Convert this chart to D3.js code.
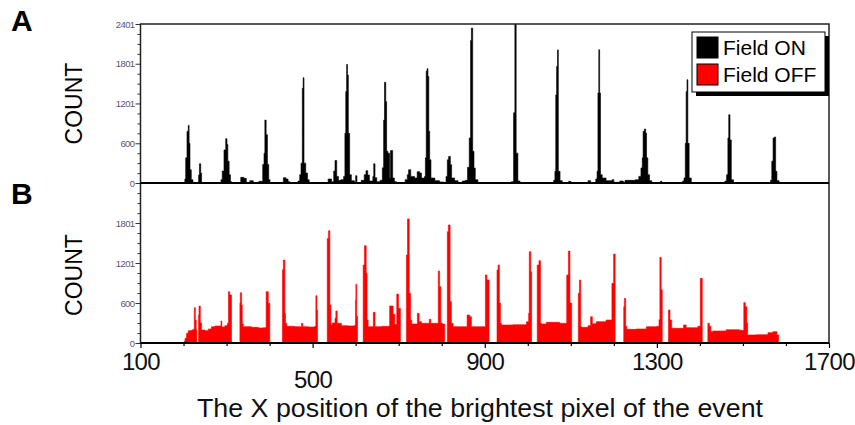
<!DOCTYPE html>
<html>
<head>
<meta charset="utf-8">
<script src="https://cdn.jsdelivr.net/npm/d3@7"></script>
<style>
  body { margin: 0; background: #fff; }
  svg { display: block; }
</style>
</head>
<body>
<div id="chart"></div>
<script>
// histogram bins: [bin start, count], a bin lasts until the next start
const fieldOnBins = [
    [200, 0], [203, 60], [205, 380], [208, 780], [211, 870], [213, 600], [215, 200], [218, 50], [222, 0],
    [235, 120], [237, 290], [240, 150], [242, 0],
    [287, 50], [290, 180], [294, 500], [298, 670], [301, 580], [303, 330], [306, 125], [309, 20], [312, 0],
    [333, 85], [340, 70], [346, 0], [354, 35], [362, 0],
    [375, 25], [384, 280], [387, 450], [389, 950], [392, 730], [395, 280], [398, 50], [401, 0],
    [432, 80], [438, 60], [443, 20], [447, 0],
    [466, 30], [470, 125], [473, 300], [476, 1430], [478, 1590], [480, 300], [484, 150], [488, 50], [492, 0],
    [536, 60], [544, 20], [549, 180], [552, 340], [556, 100], [560, 40],
    [566, 50], [572, 100], [575, 750], [577, 1380], [579, 1790], [581, 1630], [583, 750], [586, 125], [590, 35], [597, 0],
    [600, 110], [603, 0],
    [613, 40], [620, 125], [624, 186], [628, 120], [632, 30],
    [640, 100], [642, 290], [645, 80], [649, 20],
    [657, 40], [662, 230], [665, 950], [667, 1520], [670, 1230], [672, 480], [675, 450], [679, 75], [681, 490], [686, 75], [690, 20], [695, 0],
    [715, 50], [720, 125], [723, 200], [728, 100], [737, 75], [743, 170], [749, 150], [753, 75], [760, 100],
    [762, 380], [764, 1690], [766, 1726], [768, 1610], [770, 780], [772, 350], [775, 75], [784, 35], [795, 15], [805, 0],
    [810, 100], [813, 350], [816, 400], [820, 277], [823, 75], [830, 35], [838, 0],
    [848, 30], [855, 40], [860, 236], [864, 680], [867, 2150], [869, 2340], [872, 480], [875, 226], [878, 50], [884, 0],
    [962, 20], [967, 1060], [970, 2480], [973, 450], [977, 30], [982, 0],
    [1060, 40], [1063, 176], [1065, 1330], [1067, 1760], [1069, 2010], [1071, 176], [1075, 35], [1080, 0],
    [1095, 25], [1100, 0], [1140, 35], [1146, 0],
    [1158, 60], [1161, 176], [1163, 1360], [1165, 2013], [1167, 1360], [1169, 125], [1173, 75], [1182, 35], [1196, 50], [1200, 10], [1214, 30], [1222, 10], [1226, 40],
    [1250, 50], [1258, 100], [1263, 227], [1266, 380], [1268, 780], [1271, 815], [1274, 755], [1276, 380], [1279, 125], [1283, 35], [1288, 0],
    [1308, 25], [1312, 0],
    [1360, 30], [1363, 75], [1366, 600], [1368, 1380], [1370, 1560], [1372, 600], [1375, 75], [1380, 0],
    [1458, 30], [1462, 125], [1465, 680], [1467, 1030], [1470, 650], [1473, 50], [1478, 0],
    [1564, 40], [1567, 330], [1570, 680], [1573, 695], [1576, 176], [1579, 35], [1584, 0]
];

const fieldOffBins = [
    [202, 30], [203.4, 70], [207, 145], [211, 185], [219, 195], [222.5, 205], [225, 530], [227.5, 345], [229.5, 195], [231, 0],
    [235, 420], [236, 555], [239, 300], [242, 195], [250, 185], [257.5, 210], [265, 245], [273, 255], [281, 255], [287, 330], [289, 240], [296, 260], [302, 295], [304.5, 770], [307.5, 720], [311.5, 0],
    [331, 600], [332, 755], [335, 570], [336.5, 285], [339, 245], [358, 235], [374, 225], [385, 230], [392, 770], [397, 595], [400.5, 0],
    [430, 1100], [432, 1245], [435.5, 445], [437, 295], [440, 250], [459, 245], [474, 295], [477, 245], [490, 240], [505, 250], [507.5, 710], [510, 495], [511.5, 0],
    [534, 1570], [537, 1686], [540, 570], [542.5, 270], [545.5, 300], [552, 370], [554, 480], [557, 295], [567, 260], [583, 255], [597, 265], [599.5, 645], [600.5, 880], [602.5, 400], [604.5, 0],
    [617.5, 1170], [620.5, 1460], [624.5, 1045], [626.5, 345], [629, 245], [641, 460], [645, 245], [660, 250], [679, 555], [687, 430], [691, 280], [695.5, 735], [699.5, 520], [704, 0],
    [718, 1320], [720.5, 1861], [724.5, 745], [727.5, 345], [730.5, 285], [743.5, 445], [747.5, 320], [753, 295], [771, 355], [774.5, 295], [792, 1080], [795, 845], [798, 300], [801, 285], [807, 0],
    [813, 1670], [815.5, 1771], [819.5, 620], [822.5, 295], [826.5, 245], [859, 420], [865, 395], [869, 245], [901.5, 1020], [905, 945], [910, 0],
    [928.5, 1095], [931, 1170], [934, 600], [936.5, 295], [939, 270], [966, 275], [997, 320], [1002, 445], [1003.5, 1370], [1007, 1070], [1009, 0],
    [1022, 1170], [1026, 1235], [1029.5, 300], [1031.5, 285], [1043, 310], [1074, 295], [1090.5, 1020], [1094.5, 1380], [1098, 600], [1102, 0],
    [1117.5, 745], [1120, 945], [1123, 245], [1125.5, 235], [1140, 260], [1146, 395], [1150, 290], [1159, 320], [1182, 345], [1195.5, 895], [1199.5, 1335], [1203, 0],
    [1223, 545], [1224.5, 670], [1227.5, 250], [1230, 205], [1252, 210], [1275.5, 245], [1299, 250], [1305, 350], [1307, 1285], [1310, 800], [1312.5, 0],
    [1327, 495], [1330.5, 345], [1334.5, 220], [1362, 270], [1368, 230], [1395, 250], [1401, 970], [1405.5, 0],
    [1418.5, 295], [1422, 250], [1425.5, 170], [1430, 180], [1461, 200], [1492, 190], [1502, 605], [1505.5, 545], [1509, 300], [1511, 120], [1531, 125], [1558, 155], [1569.5, 170], [1579, 120], [1583, 0]
];

const topTickValues = [0, 600, 1201, 1801, 2401];
const bottomTickValues = [0, 600, 1201, 1801];
const minorYTicks = [150, 300, 450, 750, 900, 1050, 1350, 1500, 1650, 1950, 2100, 2250];
const xTickValues = [100, 500, 900, 1300, 1700];
const xMinorTicks = [200, 300, 400, 600, 700, 800, 1000, 1100, 1200, 1400, 1500, 1600];
const legendLabels = ['Field ON', 'Field OFF'];
const seriesColors = ['#000000', '#ff0000'];
const panelLetters = ['A', 'B'];

const W = 855, H = 425;
const left = 140.5, right = 829;

const svg = d3.select('#chart').append('svg')
    .attr('width', W)
    .attr('height', H);

const x = d3.scaleLinear().domain([100, 1700]).range([left, right]);
const yTop = d3.scaleLinear().domain([0, 2401]).range([183, 24]);
const yBot = d3.scaleLinear().domain([0, 2401]).range([343, 183]);

const sans = 'Arial, "Liberation Sans", sans-serif';

// clip paths so spikes stop at the frame
const defs = svg.append('defs');
[['clipTop', yTop], ['clipBot', yBot]].forEach(([id, y]) => {
    defs.append('clipPath').attr('id', id)
        .append('rect')
        .attr('x', left).attr('y', y(2401))
        .attr('width', right - left).attr('height', y(0) - y(2401));
});

function drawHist(bins, y, color, clipId) {
    const area = d3.area()
        .curve(d3.curveStepAfter)
        .x(d => x(d[0]))
        .y0(y(0))
        .y1(d => y(d[1]));
    svg.append('path')
        .datum(bins)
        .attr('clip-path', `url(#${clipId})`)
        .attr('fill', color)
        .attr('stroke', color)
        .attr('stroke-width', 0.6)
        .attr('d', area);
}

drawHist(fieldOnBins, yTop, seriesColors[0], 'clipTop');
drawHist(fieldOffBins, yBot, seriesColors[1], 'clipBot');

// y axes (left), small grey labels
function drawYAxis(y, values) {
    const g = svg.append('g').attr('transform', `translate(${left},0)`);
    g.call(d3.axisLeft(y).tickValues(values).tickSize(5).tickSizeOuter(0).tickFormat(d3.format('d')));
    g.select('.domain').remove();
    g.selectAll('.tick line').attr('stroke', '#333').attr('stroke-width', 1);
    g.selectAll('.tick text')
        .attr('x', -6)
        .style('font-family', sans)
        .style('font-size', '9.5px')
        .style('letter-spacing', '-0.6px')
        .attr('fill', '#5a5470');

    const gm = svg.append('g').attr('transform', `translate(${left},0)`);
    gm.call(d3.axisLeft(y).tickValues(minorYTicks).tickSize(3).tickFormat(''));
    gm.select('.domain').remove();
    gm.selectAll('.tick line').attr('stroke', '#333').attr('stroke-width', 1);
}
drawYAxis(yTop, topTickValues);
drawYAxis(yBot, bottomTickValues);

// x axis at bottom, 500 sits lower than the others
const xg = svg.append('g').attr('transform', 'translate(0,343)');
xg.call(d3.axisBottom(x).tickValues(xTickValues).tickSize(5).tickSizeOuter(0).tickFormat(d3.format('d')));
xg.select('.domain').remove();
xg.selectAll('.tick line').attr('stroke', '#000').attr('stroke-width', 1.2);
xg.selectAll('.tick text')
    .attr('y', (d, i) => i === 1 ? 28 : 10)
    .attr('dy', '0.71em')
    .style('font-family', sans)
    .style('font-size', '24px')
    .style('letter-spacing', '-0.6px')
    .attr('fill', '#111');

const xgm = svg.append('g').attr('transform', 'translate(0,343)');
xgm.call(d3.axisBottom(x).tickValues(xMinorTicks).tickSize(3).tickFormat(''));
xgm.select('.domain').remove();
xgm.selectAll('.tick line').attr('stroke', '#000').attr('stroke-width', 1.2);

// frames
svg.append('rect')
    .attr('x', left).attr('y', yTop(2401))
    .attr('width', right - left).attr('height', yBot(0) - yTop(2401))
    .attr('fill', 'none')
    .attr('stroke', '#222')
    .attr('stroke-width', 1.5);

svg.append('line')
    .attr('x1', left).attr('x2', right)
    .attr('y1', yTop(0)).attr('y2', yTop(0))
    .attr('stroke', '#000')
    .attr('stroke-width', 2);

svg.append('line')
    .attr('x1', left).attr('x2', right)
    .attr('y1', yBot(0)).attr('y2', yBot(0))
    .attr('stroke', '#000')
    .attr('stroke-width', 2);

// COUNT labels
[yTop, yBot].forEach(y => {
    const cy = (y(0) + y(2401)) / 2 + (y === yTop ? 0 : 12);
    svg.append('text')
        .attr('transform', `translate(82,${cy}) rotate(-90)`)
        .attr('text-anchor', 'middle')
        .style('font-family', sans)
        .style('font-size', '23px')
        .attr('fill', '#000')
        .text('COUNT');
});

// panel letters
panelLetters.forEach((t, i) => {
    svg.append('text')
        .attr('x', 11)
        .attr('y', i === 0 ? 31 : 204)
        .style('font-family', sans)
        .style('font-size', '30px')
        .style('font-weight', 'bold')
        .attr('fill', '#000')
        .text(t);
});

// x title
svg.append('text')
    .attr('x', 480)
    .attr('y', 417)
    .attr('text-anchor', 'middle')
    .style('font-family', sans)
    .style('font-size', '25px')
    .attr('textLength', 566)
    .attr('lengthAdjust', 'spacingAndGlyphs')
    .attr('fill', '#111')
    .text('The X position of the brightest pixel of the event');

// legend with drop shadow
const lg = svg.append('g').attr('transform', 'translate(692,32)');
lg.append('rect')
    .attr('x', 4).attr('y', 4)
    .attr('width', 133).attr('height', 60)
    .attr('fill', '#000');
lg.append('rect')
    .attr('width', 133).attr('height', 60)
    .attr('fill', '#fff')
    .attr('stroke', '#000')
    .attr('stroke-width', 1);

legendLabels.forEach((label, i) => {
    lg.append('rect')
        .attr('x', 5).attr('y', 5 + i * 27)
        .attr('width', 21).attr('height', 21)
        .attr('fill', seriesColors[i])
        .attr('stroke', '#000')
        .attr('stroke-width', 1);
    lg.append('text')
        .attr('x', 31).attr('y', 23 + i * 27)
        .style('font-family', sans)
        .style('font-size', '21px')
        .attr('fill', '#000')
        .text(label);
});
</script>
</body>
</html>
